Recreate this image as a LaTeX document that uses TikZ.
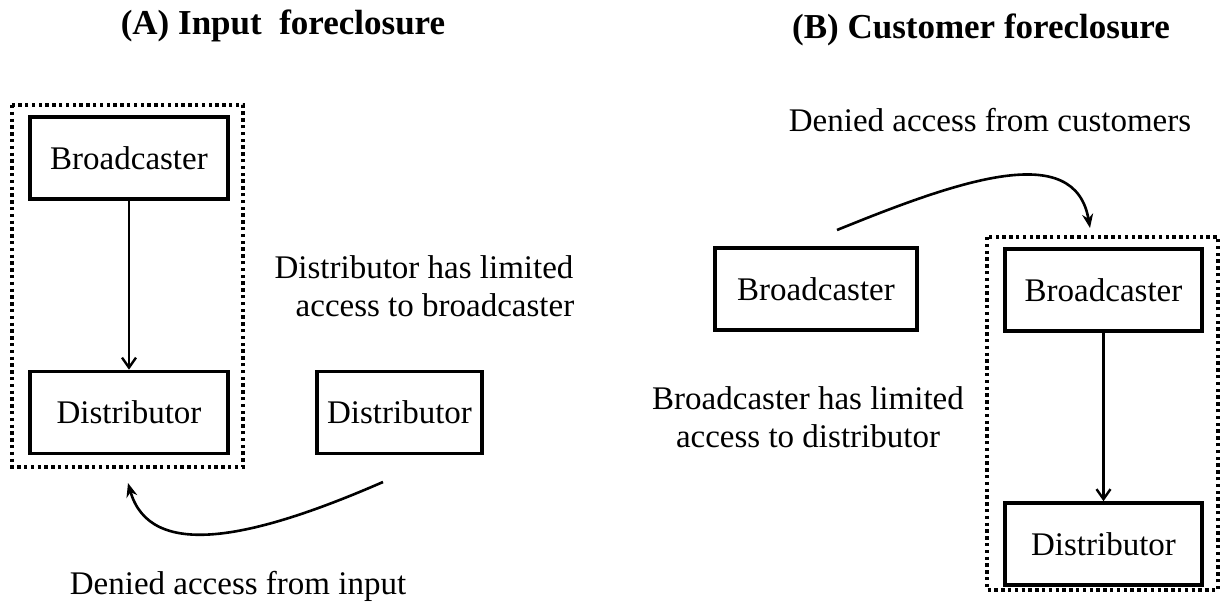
\documentclass[tikz,border=0pt]{standalone}
\usepackage{fontspec}
\setmainfont{Liberation Serif}
\usetikzlibrary{arrows.meta}
\begin{document}
\begin{tikzpicture}[x=1pt,y=-1pt,
  box/.style={draw,line width=3.6pt,minimum width=#1,minimum height=82pt,inner sep=0pt,font=\fontsize{33}{38}\selectfont},
  frame/.style={draw,line width=3.4pt,dash pattern=on 3.4pt off 3.4pt},
  lbl/.style={font=\fontsize{33}{38}\selectfont,inner sep=0pt},
  ttl/.style={font=\fontsize{35}{40}\selectfont\bfseries,inner sep=0pt,anchor=base},
  flow/.style={line width=2.4pt,-{Straight Barb[length=10pt,width=14pt,line width=2.4pt]}},
  curvy/.style={line width=2.6pt,-{Stealth[length=14pt,width=11pt]}}]
\useasboundingbox (0,0) rectangle (1220,603);
% titles
\node[ttl] (ta) at (283,34) {(A) Input\ \ foreclosure};
\node[ttl] (tb) at (981,38) {(B) Customer foreclosure};
% panel A
\draw[frame] (12,105) rectangle (243,467);
\node[box=198pt] (a1) at (129,158) {Broadcaster};
\node[box=198pt] (a2) at (129,412.5) {Distributor};
\node[box=165pt] (a3) at (399.5,412.5) {Distributor};
\draw[flow] (a1) -- (a2);
\node[lbl,align=center] (la) at (424,286) {Distributor has limited\\\hspace*{22pt}access to broadcaster};
\coordinate (as) at (383,482);
\coordinate (ae) at (128,483);
\draw[curvy] (as) .. controls (250,540) and (150,560) .. (ae);
\node[lbl,anchor=base] (da) at (238,594) {Denied access from input};
% panel B
\node[lbl,anchor=base] (db) at (990,131) {Denied access from customers};
\node[box=202pt] (b1) at (816,289) {Broadcaster};
\draw[frame] (987,237) rectangle (1218,590);
\node[box=197pt] (b2) at (1103.5,290) {Broadcaster};
\node[box=197pt] (b3) at (1103.5,544) {Distributor};
\draw[flow] (b2) -- (b3);
\coordinate (bs) at (837,230);
\coordinate (be) at (1090,228);
\draw[curvy] (bs) .. controls (960,180) and (1075,140) .. (be);
\node[lbl,align=center] (lb) at (808,417.5) {Broadcaster has limited\\access to distributor};
\end{tikzpicture}
\end{document}
